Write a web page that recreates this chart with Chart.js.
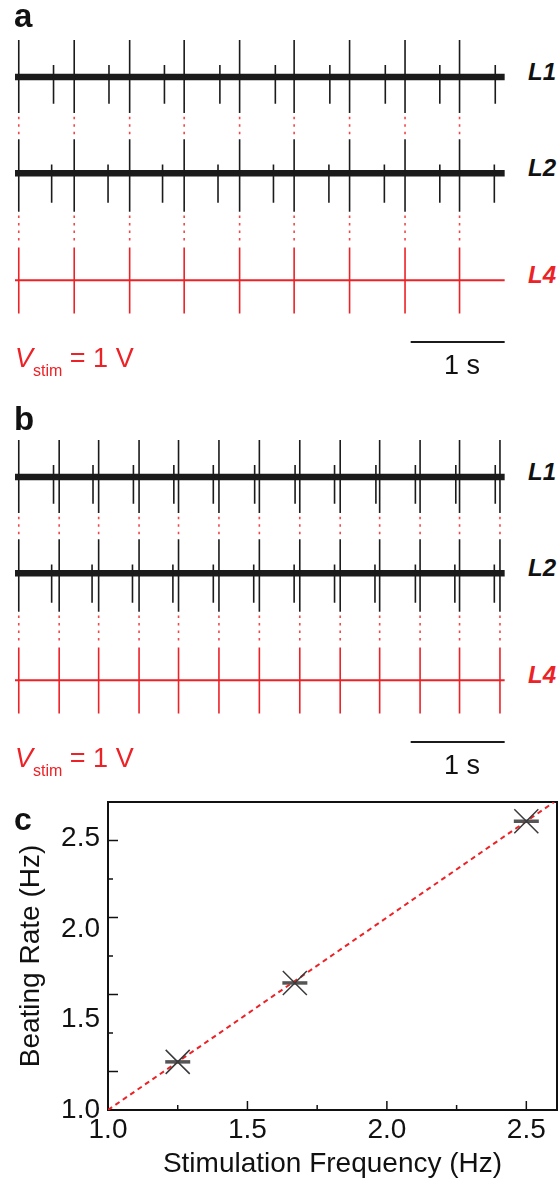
<!DOCTYPE html>
<html>
<head>
<meta charset="utf-8">
<script src="https://cdn.jsdelivr.net/npm/chart.js@4.4.1/dist/chart.umd.min.js"></script>
<style>
html, body { margin: 0; padding: 0; background: #fff; }
#page { position: relative; width: 560px; height: 1181px; overflow: hidden;
        font-family: "Liberation Sans", Arial, Helvetica, sans-serif; color: #111; }
canvas { position: absolute; }
.txt { position: absolute; line-height: 1; white-space: nowrap; }
.panel { font-weight: bold; }
.lab { font-weight: bold; font-style: italic; font-size: 24px; left: 528px; }
.red { color: #ec2227; }
.vstim { font-size: 27px; left: 15px; }
.vstim i { font-style: italic; }
.vstim sub { font-size: 16px; vertical-align: baseline; position: relative; top: 9px; }
.sec { font-size: 27px; left: 444px; }
</style>
</head>
<body>
<div id="page">
  <canvas id="traceA" width="500" height="344" style="left:15px;top:29px"></canvas>
  <canvas id="traceB" width="500" height="344" style="left:15px;top:429px"></canvas>
  <canvas id="rate" width="560" height="391" style="left:0;top:790px"></canvas>

  <div class="txt panel" style="left:14px;top:-1px;font-size:33px">a</div>
  <div class="txt lab" style="top:60px">L1</div>
  <div class="txt lab" style="top:156px">L2</div>
  <div class="txt lab red" style="top:263px">L4</div>
  <div class="txt vstim red" style="top:345px"><i>V</i><sub>stim</sub> = 1 V</div>
  <div class="txt sec" style="top:352px">1 s</div>

  <div class="txt panel" style="left:14px;top:402px;font-size:33px">b</div>
  <div class="txt lab" style="top:460px">L1</div>
  <div class="txt lab" style="top:556px">L2</div>
  <div class="txt lab red" style="top:663px">L4</div>
  <div class="txt vstim red" style="top:745px"><i>V</i><sub>stim</sub> = 1 V</div>
  <div class="txt sec" style="top:752px">1 s</div>

  <div class="txt panel" style="left:14px;top:803px;font-size:32px">c</div>
</div>
<script>
// panel a : stimulus pulses and the beats picked up on L1 / L2 (time in s)
var stimTimesA = [0.04, 0.63, 1.22, 1.80, 2.39, 2.97, 3.56, 4.15, 4.73];
var beatTimesA_L1 = [0.41, 1.00, 1.59, 2.18, 2.77, 3.35, 3.94, 4.52, 5.11];
var beatTimesA_L2 = [0.39, 0.99, 1.57, 2.16, 2.75, 3.34, 3.93, 4.52, 5.10];

// panel b : faster pacing
var stimTimesB = [0.04, 0.47, 0.89, 1.32, 1.74, 2.17, 2.60, 3.03, 3.46, 3.88, 4.31, 4.73, 5.16];
var beatTimesB_L1 = [0.41, 0.83, 1.26, 1.69, 2.11, 2.55, 2.98, 3.40, 3.84, 4.26, 4.69, 5.11];
var beatTimesB_L2 = [0.39, 0.82, 1.25, 1.68, 2.11, 2.54, 2.97, 3.40, 3.83, 4.26, 4.68, 5.10];

// spike amplitudes (a.u.) for L1, L2, L4
var stimSpikeUp = [1.0, 0.92, 0.88];
var stimSpikeDown = [-0.97, -1.04, -0.9];
var beatSpikeUp = [0.33, 0.24];
var beatSpikeDown = [-0.72, -0.8];
var recordEnd = 5.21;
var scaleBar = [4.21, 5.21];   // 1 s

// panel c
var stimFreq = [1.25, 1.67, 2.5];
var beatRate = [1.25, 1.66, 2.5];
var fitFreq = [1.0, 2.6];
var fitRate = [1.0, 2.6];

Chart.defaults.font.family = '"Liberation Sans", Arial, Helvetica, sans-serif';
Chart.defaults.color = '#111';

var black = '#1b1b1b';
var red = '#ec2227';
var dotRed = '#f04848';
var offsets = [0, -2.6, -5.49];      // vertical stacking of L1, L2, L4
var traceColors = [black, black, red];

function spikeSegments(times, off, up, down) {
    var pts = [];
    times.forEach(function (t) {
        pts.push({x: t, y: off + up}, {x: t, y: off + down}, {x: t, y: null});
    });
    return pts;
}

function traceDatasets(stim, beats) {
    var sets = [];
    for (var i = 0; i < 3; i++) {
        var spikes = spikeSegments(stim, offsets[i], stimSpikeUp[i], stimSpikeDown[i]);
        if (beats[i]) {
            spikes = spikes.concat(spikeSegments(beats[i], offsets[i], beatSpikeUp[i], beatSpikeDown[i]));
        }
        sets.push({data: spikes, borderColor: traceColors[i], borderWidth: 1.6});
        sets.push({
            data: [{x: 0, y: offsets[i]}, {x: recordEnd, y: offsets[i]}],
            borderColor: traceColors[i],
            borderWidth: i < 2 ? 6.5 : 2
        });
    }
    // dotted guides from each pulse down through the traces
    var dots = [];
    stim.forEach(function (t) {
        dots.push({x: t, y: offsets[0] + stimSpikeDown[0] - 0.1}, {x: t, y: offsets[1] + stimSpikeUp[1] + 0.1}, {x: t, y: null});
        dots.push({x: t, y: offsets[1] + stimSpikeDown[1] - 0.1}, {x: t, y: offsets[2] + stimSpikeUp[2] + 0.12}, {x: t, y: null});
    });
    sets.push({data: dots, borderColor: dotRed, borderWidth: 1.6, borderDash: [2.5, 5]});
    sets.push({
        data: [{x: scaleBar[0], y: -7.16}, {x: scaleBar[1], y: -7.16}],
        borderColor: black,
        borderWidth: 2
    });
    return sets;
}

function drawTraces(id, stim, beats) {
    new Chart(document.getElementById(id), {
        type: 'line',
        data: {datasets: traceDatasets(stim, beats)},
        options: {
            responsive: false,
            animation: false,
            events: [],
            spanGaps: false,
            layout: {padding: 0, autoPadding: false},
            elements: {point: {radius: 0}, line: {tension: 0, borderCapStyle: 'butt'}},
            plugins: {legend: {display: false}, tooltip: {enabled: false}},
            scales: {
                x: {type: 'linear', display: false, min: 0, max: 5.32},
                y: {type: 'linear', display: false, min: -8.0, max: 1.3}
            }
        }
    });
}

drawTraces('traceA', stimTimesA, [beatTimesA_L1, beatTimesA_L2]);
drawTraces('traceB', stimTimesB, [beatTimesB_L1, beatTimesB_L2]);

function onStep(v, step) {
    return Math.abs(v / step - Math.round(v / step)) < 1e-6;
}

// keep the plot box where the layout padding puts it
function noLabelPadding(s) {
    s.paddingTop = 0; s.paddingBottom = 0; s.paddingLeft = 0; s.paddingRight = 0;
}

// box + inward tick marks
var framePlugin = {
    id: 'frame',
    beforeDatasetsDraw: function (chart) {
        var ctx = chart.ctx, a = chart.chartArea, sx = chart.scales.x, sy = chart.scales.y;
        ctx.save();
        ctx.strokeStyle = '#111';
        ctx.lineWidth = 1.5;
        sx.ticks.forEach(function (t) {
            var px = sx.getPixelForValue(t.value);
            var len = onStep(t.value, 0.5) ? 9 : 5;
            ctx.beginPath(); ctx.moveTo(px, a.bottom); ctx.lineTo(px, a.bottom - len); ctx.stroke();
        });
        sy.ticks.forEach(function (t) {
            var py = sy.getPixelForValue(t.value);
            var len = onStep(t.value, 0.4) ? 10 : 5;
            ctx.beginPath(); ctx.moveTo(a.left, py); ctx.lineTo(a.left + len, py); ctx.stroke();
        });
        ctx.lineWidth = 2;
        ctx.strokeRect(a.left, a.top, a.right - a.left, a.bottom - a.top);
        ctx.restore();
    }
};

var points = stimFreq.map(function (f, i) { return {x: f, y: beatRate[i]}; });
var fit = fitFreq.map(function (f, i) { return {x: f, y: fitRate[i]}; });

new Chart(document.getElementById('rate'), {
    type: 'scatter',
    data: {
        datasets: [{
            data: points,
            yAxisID: 'y',
            pointStyle: 'crossRot',
            pointRadius: 17,
            pointBorderColor: '#3a3a3a',
            pointBorderWidth: 1.5
        }, {
            data: points,
            yAxisID: 'y',
            pointStyle: 'line',
            pointRadius: 12.5,
            pointBorderColor: '#555',
            pointBorderWidth: 3.5
        }, {
            data: fit,
            yAxisID: 'y',
            showLine: true,
            pointRadius: 0,
            borderColor: red,
            borderWidth: 2,
            borderDash: [5, 4]
        }]
    },
    options: {
        responsive: false,
        animation: false,
        events: [],
        layout: {padding: {top: 12, right: 3, left: 0, bottom: 0}, autoPadding: false},
        plugins: {legend: {display: false}, tooltip: {enabled: false}},
        scales: {
            x: {
                type: 'linear', position: 'bottom', min: 1.0, max: 2.61,
                grid: {display: false, drawTicks: false},
                border: {display: false},
                ticks: {
                    stepSize: 0.25, includeBounds: false, autoSkip: false, maxRotation: 0,
                    padding: 3, font: {size: 28}, color: '#111',
                    callback: function (v) { return onStep(v, 0.5) ? v.toFixed(1) : ''; }
                },
                title: {display: true, text: 'Stimulation Frequency (Hz)', font: {size: 28}, color: '#111', padding: {top: 0, bottom: 0}},
                afterFit: function (s) { s.height = 71; noLabelPadding(s); }
            },
            y: {
                type: 'linear', position: 'left', min: 1.0, max: 2.6,
                grid: {display: false, drawTicks: false},
                border: {display: false},
                ticks: {display: false, stepSize: 0.2, includeBounds: false},
                afterFit: function (s) { s.width = 0; noLabelPadding(s); }
            },
            yLab: {
                type: 'linear', position: 'left', min: 1.0, max: 2.70,
                grid: {display: false, drawTicks: false},
                border: {display: false},
                ticks: {
                    stepSize: 0.5, includeBounds: false, padding: 8, font: {size: 28}, color: '#111',
                    callback: function (v) { return v.toFixed(1); }
                },
                title: {display: true, text: 'Beating Rate (Hz)', font: {size: 28}, color: '#111', padding: {top: 14, bottom: 0}},
                afterFit: function (s) { s.width = 108; noLabelPadding(s); }
            }
        }
    },
    plugins: [framePlugin]
});
</script>
</body>
</html>
